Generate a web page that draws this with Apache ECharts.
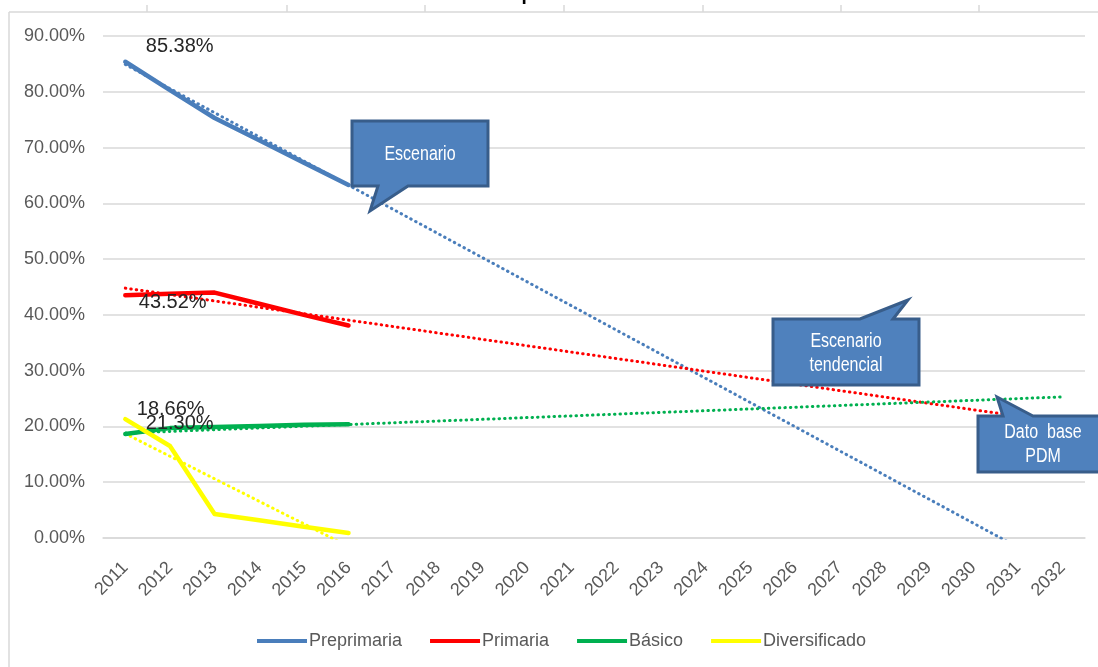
<!DOCTYPE html>
<html>
<head>
<meta charset="utf-8">
<script src="https://cdn.jsdelivr.net/npm/echarts@6/dist/echarts.min.js"></script>
<style>
  html, body { margin: 0; padding: 0; background: #ffffff; }
  #chart { width: 1098px; height: 667px; }
</style>
</head>
<body>
<div id="chart"></div>
<script>
// ---- Data ----
const years = ['2011','2012','2013','2014','2015','2016','2017','2018','2019','2020','2021',
               '2022','2023','2024','2025','2026','2027','2028','2029','2030','2031','2032'];
const seriesNames = ['Preprimaria', 'Primaria', 'Básico', 'Diversificado'];
const preprimaria   = [85.38, 80.3, 75.3, 71.3, 67.3, 63.3];
const primaria      = [43.52, 43.8, 44.0, 42.0, 40.0, 38.1];
const basico        = [18.66, 19.7, 19.9, 20.1, 20.3, 20.4];
const diversificado = [21.30, 16.5, 4.3, 3.2, 2.0, 0.9];
// linear trend lines (Excel "Lineal"), read as end points
const preprimariaTrend   = [['2011', 84.9], ['2032', -6.0]];
const primariaTrend      = [['2011', 44.8], ['2032', 20.7]];
const basicoTrend        = [['2011', 18.8], ['2032', 25.3]];
const diversificadoTrend = [['2011', 18.7], ['2016', -1.5]];
const yTicks = [0, 10, 20, 30, 40, 50, 60, 70, 80, 90];
const titleText = 'Cobertura por nivel educativo';

const colors = ['#4A7EBB', '#FF0000', '#00B050', '#FFFF00'];
const FONT = 'Liberation Sans';

// label offsets for the first point's data label
const labelOffsets = [[20, -15], [13, 7], [11, -24], [20, 4]];

function withFirstLabel(arr, idx) {
  return arr.map((v, i) => i === 0 ? {
    value: v,
    label: {
      show: true, position: 'right', distance: 0, offset: labelOffsets[idx],
      formatter: p => p.value.toFixed(2) + '%',
      color: '#262626', fontSize: 20, fontFamily: FONT
    }
  } : v);
}

const mainData = [preprimaria, primaria, basico, diversificado];
const trendData = [preprimariaTrend, primariaTrend, basicoTrend, diversificadoTrend];

const series = [];
trendData.forEach((d, i) => {
  series.push({
    name: 'Lineal (' + seriesNames[i] + ')',
    type: 'line', data: d, symbol: 'none', clip: true,
    lineStyle: { color: colors[i], width: 3, type: [0.5, 5], cap: 'round' },
    z: 2, silent: true
  });
});
mainData.forEach((d, i) => {
  series.push({
    name: seriesNames[i],
    type: 'line', data: withFirstLabel(d, i),
    symbol: 'circle', symbolSize: 1, showSymbol: true,
    itemStyle: { color: colors[i] },
    lineStyle: { color: colors[i], width: 4.5, cap: 'round', join: 'round' },
    z: 3 + i
  });
});

function callout(points, lines, cx, cy) {
  const els = [{
    type: 'polygon',
    shape: { points: points },
    style: { fill: '#4F81BD', stroke: '#385D8A', lineWidth: 3 },
    z: 100
  }];
  lines.forEach((t, k) => {
    els.push({
      type: 'text', x: cx, y: cy + k * 24, scaleX: 0.8,
      style: { text: t, fill: '#FFFFFF', font: '20px ' + FONT, align: 'center', verticalAlign: 'middle' },
      z: 101
    });
  });
  return els;
}

const cellLines = [147, 287, 425, 564, 703, 841, 979].map(x => ({
  type: 'line', shape: { x1: x, y1: 5, x2: x, y2: 12 },
  style: { stroke: '#D9D9D9', lineWidth: 1.5 }, z: 0
}));

const graphics = [
  { type: 'text', x: 560, y: 4,
    style: { text: titleText, fill: '#000000', font: 'bold 19px ' + FONT, align: 'center', verticalAlign: 'bottom' }, z: 0 },
  { type: 'line', shape: { x1: 9, y1: 12, x2: 1098, y2: 12 }, style: { stroke: '#D9D9D9', lineWidth: 1.5 }, z: 0 },
  { type: 'line', shape: { x1: 9, y1: 12, x2: 9, y2: 667 }, style: { stroke: '#D9D9D9', lineWidth: 1.5 }, z: 0 },
  ...cellLines,
  ...callout([[352,121],[488,121],[488,186],[408,186],[370,211],[378,186],[352,186]], ['Escenario'], 420, 154),
  ...callout([[773,319],[860,319],[908,300],[893,319],[919,319],[919,385],[773,385]], ['Escenario', 'tendencial'], 846, 341),
  ...callout([[978,416],[1003,416],[997,397],[1033,416],[1100,416],[1100,472],[978,472]], ['Dato  base', 'PDM'], 1043, 432)
];

const chart = echarts.init(document.getElementById('chart'), null, { renderer: 'canvas' });
chart.setOption({
  backgroundColor: '#ffffff',
  animation: false,
  grid: { left: 103, right: 13, top: 36, bottom: 129, containLabel: false },
  legend: {
    data: seriesNames,
    left: 252, top: 627,
    icon: 'rect', itemWidth: 50, itemHeight: 4, itemGap: 28,
    textStyle: { color: '#595959', fontSize: 18, fontFamily: FONT, padding: [0, 0, 0, -3] }
  },
  xAxis: {
    type: 'category', data: years, boundaryGap: true,
    axisLine: { show: true, lineStyle: { color: '#D9D9D9', width: 1.5 } },
    axisTick: { show: false },
    axisLabel: { rotate: 45, margin: 27, color: '#595959', fontSize: 18, fontFamily: FONT, interval: 0 },
    splitLine: { show: false }
  },
  yAxis: {
    type: 'value', min: yTicks[0], max: yTicks[yTicks.length - 1], interval: 10,
    axisLine: { show: false }, axisTick: { show: false },
    axisLabel: { margin: 18, color: '#595959', fontSize: 18, fontFamily: FONT,
                 formatter: v => v.toFixed(2) + '%' },
    splitLine: { lineStyle: { color: '#D9D9D9', width: 1.5 } }
  },
  series: series,
  graphic: graphics
});
</script>
</body>
</html>
